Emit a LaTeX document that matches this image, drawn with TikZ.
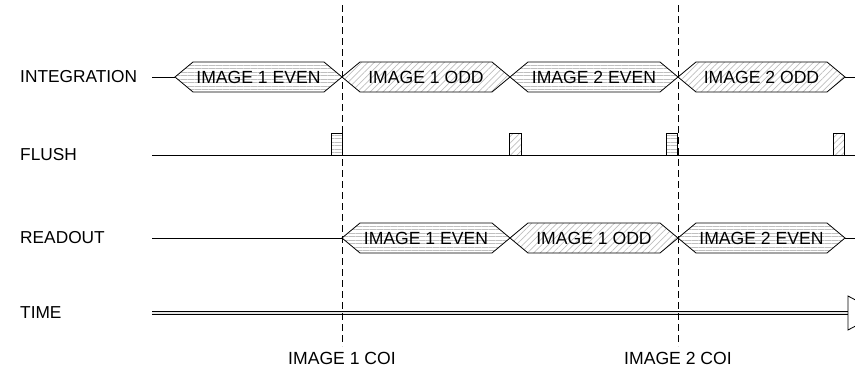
\documentclass[tikz,border=0pt]{standalone}
\usepackage{fontspec}
\setmainfont{Liberation Sans}
\usetikzlibrary{patterns.meta}

\tikzset{
  wire/.style={line width=0.9pt},
  evenfill/.style={draw,line width=0.8pt,pattern={Lines[angle=0,distance=3.5pt,line width=0.7pt]},pattern color=gray!50},
  oddfill/.style={draw,line width=0.8pt,pattern={Lines[angle=45,distance=4.5pt,line width=0.7pt]},pattern color=gray!50},
  rowlabel/.style={anchor=west,inner sep=0pt,font=\fontsize{17.3}{20}\selectfont},
  hextext/.style={inner sep=0pt,font=\fontsize{17.6}{20}\selectfont},
  coiline/.style={line width=0.9pt,dash pattern=on 7pt off 4pt}
}

% #1 start, #2 end, #3 row, #4 fill style, #5 node name, #6 text
\newcommand{\sighex}[6]{
  \draw[#4] (#1,#3) -- (#1+18,#3-15) -- (#2-18,#3-15) -- (#2,#3)
    -- (#2-18,#3+15) -- (#1+18,#3+15) -- cycle;
  \node[hextext] (#5) at ({(#1+#2)/2},#3) {#6};
}

\begin{document}
\begin{tikzpicture}[x=1pt,y=-1pt]
  \useasboundingbox (0,0) rectangle (855,373);
  \clip (0,0) rectangle (855,373);

  % row labels
  \node[rowlabel] (integration) at (20,77) {INTEGRATION};
  \node[rowlabel] (flush) at (20,155) {FLUSH};
  \node[rowlabel] (readout) at (20,238) {READOUT};
  \node[rowlabel] (time) at (20,313) {TIME};

  % integration
  \draw[wire] (152,77) -- (175,77);
  \sighex{175}{342}{77}{evenfill}{int1e}{IMAGE 1 EVEN}
  \sighex{342}{510}{77}{oddfill}{int1o}{IMAGE 1 ODD}
  \sighex{510}{678}{77}{evenfill}{int2e}{IMAGE 2 EVEN}
  \sighex{678}{845}{77}{oddfill}{int2o}{IMAGE 2 ODD}
  \draw[wire] (845,77) -- (855,77);

  % flush
  \draw[wire] (152,155) -- (855,155);
  \draw[evenfill] (331,133) rectangle (342,155);
  \draw[oddfill] (509,133) rectangle (521,155);
  \draw[evenfill] (666,133) rectangle (677,155);
  \draw[oddfill] (833,133) rectangle (844,155);

  % readout
  \draw[wire] (152,238) -- (342,238);
  \sighex{342}{510}{238}{evenfill}{rd1e}{IMAGE 1 EVEN}
  \sighex{510}{678}{238}{oddfill}{rd1o}{IMAGE 1 ODD}
  \sighex{678}{845}{238}{evenfill}{rd2e}{IMAGE 2 EVEN}
  \draw[wire] (845,238) -- (855,238);

  % time axis
  \coordinate (t0) at (152,313);
  \coordinate (t1) at (848,313);
  \draw[line width=0.8pt,double=gray!20,double distance=2.4pt] (t0) -- (t1);
  \draw[line width=0.8pt,fill=white] (848,296) -- (880,313) -- (848,330) -- cycle;

  % change of integration
  \draw[coiline] (342,5) -- (342,346);
  \draw[coiline] (678,5) -- (678,346);
  \node[hextext] (coi1) at (342,358) {IMAGE 1 COI};
  \node[hextext] (coi2) at (678,358) {IMAGE 2 COI};
\end{tikzpicture}
\end{document}
